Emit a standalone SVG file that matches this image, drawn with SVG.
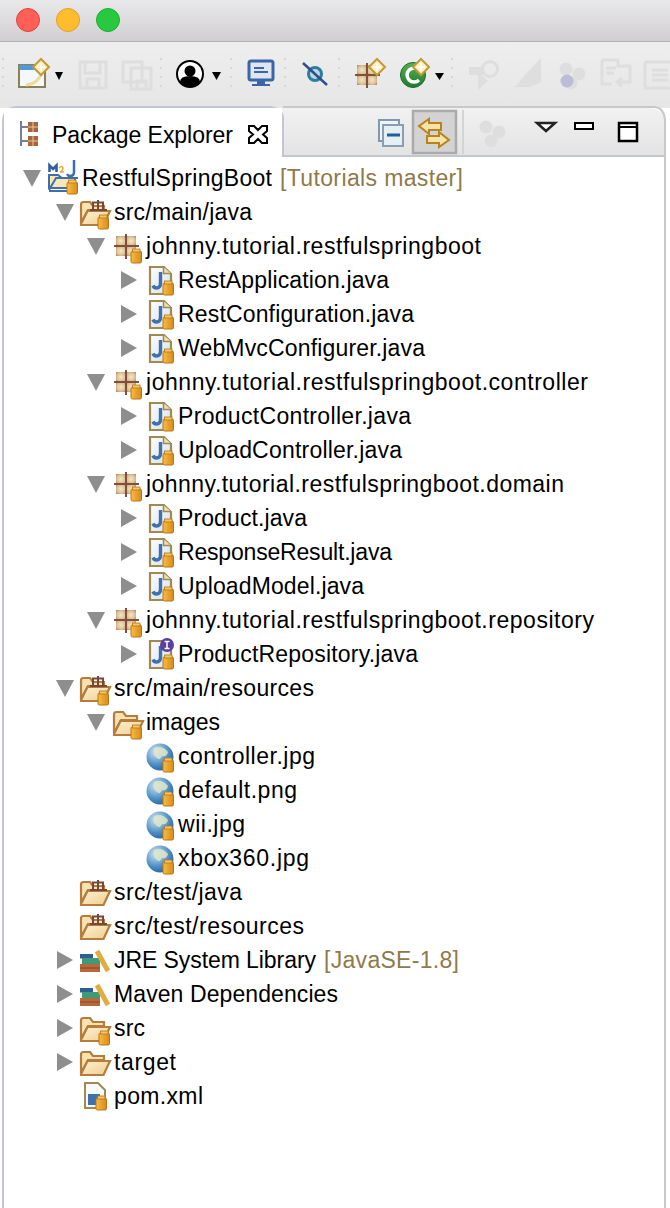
<svg xmlns="http://www.w3.org/2000/svg" width="670" height="1208" viewBox="0 0 670 1208">
<style>
text{font-family:"Liberation Sans","DejaVu Sans",sans-serif;font-size:23px;fill:#000}
.dec{fill:#8f7a4a}
.sep{stroke:#d8d6cf;stroke-width:2;stroke-dasharray:2 7;fill:none}
.dis{fill:none;stroke:#dedede;stroke-width:3}
.disf{fill:#dedede}
</style>
<defs>
<linearGradient id="chrome" x1="0" y1="0" x2="0" y2="1"><stop offset="0" stop-color="#e9e8eb"/><stop offset="1" stop-color="#d0ced1"/></linearGradient>
<linearGradient id="tool" x1="0" y1="0" x2="0" y2="1"><stop offset="0" stop-color="#eeeeee"/><stop offset="1" stop-color="#e6e6e6"/></linearGradient>
<linearGradient id="bar" x1="0" y1="0" x2="0" y2="1"><stop offset="0" stop-color="#f1f1f1"/><stop offset="1" stop-color="#e3e3e3"/></linearGradient>
<linearGradient id="fold" x1="0" y1="0" x2="1" y2="1"><stop offset="0" stop-color="#fdf3d6"/><stop offset="1" stop-color="#f0cc88"/></linearGradient>
<radialGradient id="pk" cx=".5" cy=".5" r=".7"><stop offset="0" stop-color="#f6e7c4"/><stop offset=".6" stop-color="#dcc096"/><stop offset="1" stop-color="#ae7c5a"/></radialGradient>
<linearGradient id="jar" x1="0" y1="0" x2="1" y2="0"><stop offset="0" stop-color="#f7bd3f"/><stop offset="1" stop-color="#d98a1c"/></linearGradient>
<radialGradient id="globe" cx=".35" cy=".3" r=".8"><stop offset="0" stop-color="#cfe6f6"/><stop offset=".6" stop-color="#4f8fc4"/><stop offset="1" stop-color="#1f5c94"/></radialGradient>
<linearGradient id="cg" x1="0" y1="0" x2="0" y2="1"><stop offset="0" stop-color="#59b04f"/><stop offset="1" stop-color="#1f7a30"/></linearGradient>
<linearGradient id="jfg" x1="0" y1="0" x2="1" y2="1"><stop offset="0" stop-color="#fbfdff"/><stop offset="1" stop-color="#d3e0ee"/></linearGradient>
<path id="down" d="M0 0H18L9 17Z" fill="#8e8e8e"/>
<path id="right" d="M0 0L16 9L0 18Z" fill="#8e8e8e"/>
<g id="jb"><rect x="0" y="1" width="10.500" height="12" rx="1.500" fill="url(#jar)" stroke="#b9741a"/><rect x="1.500" y="-1" width="7.500" height="3" fill="#f4c660" stroke="#b9741a" stroke-width=".8"/></g>
<g id="openf"><path d="M1 12V3.500Q1 1 3.500 1H10L13 5H24V9H8L1 22Z" fill="#f8e3b0" stroke="#b57c3c" stroke-width="2.200"/><path d="M1 23L7.500 10H30L23.500 24H1Z" fill="url(#fold)" stroke="#b57c3c" stroke-width="2.200"/></g>
<g id="srcf"><use href="#openf"/><path d="M13 9V1.500H23V9M18 -1V9M10 9H27" stroke="#75483a" stroke-width="2" fill="none"/></g>
<g id="pkg"><rect x="1" y="-10" width="10" height="10" fill="url(#pk)"/><rect x="11" y="-10" width="10" height="10" fill="url(#pk)"/><rect x="1" y="0" width="10" height="10" fill="url(#pk)"/><rect x="11" y="0" width="10" height="10" fill="url(#pk)"/><path d="M11 -12V13M-1 0H24" stroke="#80503f" stroke-width="2"/></g>
<g id="jf"><path d="M1 -13H15L22 -6V14H1Z" fill="url(#jfg)" stroke="#a08a52" stroke-width="2.200"/><path d="M14.500 -13V-6.500H22" fill="#eadfba" stroke="#a08a52" stroke-width="1.500"/><path d="M11.500 -8V3Q11.500 8 7.500 8Q5 8 4 5.500" fill="none" stroke="#3f6fad" stroke-width="3.400"/></g>
<g id="globeI"><circle cx="14" cy="0" r="13.500" fill="url(#globe)"/><path d="M8 -9Q16 -12 22 -5Q21 0 16 -1Q14 4 11 1Q6 -2 8 -9Z" fill="#dfe6c8" opacity=".85"/></g>
<g id="lib"><rect x="0" y="-6" width="13" height="4.500" fill="#2f5f8f"/><rect x="2" y="-2" width="18" height="6" fill="#3f9a78"/><rect x="0" y="4" width="20" height="8" fill="#b9683a"/><path d="M17 -9L28 11" stroke="#e2ad3e" stroke-width="5"/><path d="M0 8H20" stroke="#84462a" stroke-width="1"/></g>
<g id="balls"><circle cx="8" cy="7" r="6.500"/><circle cx="21" cy="12" r="6.500"/><circle cx="13" cy="21" r="6.500"/></g>
<g id="star"><path d="M0 -8L8 0L0 8L-8 0Z" fill="#fbeec2" stroke="#c09a35" stroke-width="2"/><path d="M0 -4V4M-4 0H4" stroke="#fffdf2" stroke-width="2"/></g>
</defs>

<g id="window-chrome">
<rect width="670" height="42" fill="url(#chrome)"/>
<rect y="41" width="670" height="1" fill="#b4b2b5"/>
<circle cx="28" cy="20" r="11.500" fill="#ff5f57" stroke="#e2453f"/>
<circle cx="68" cy="20" r="11.500" fill="#ffbd2e" stroke="#e0a125"/>
<circle cx="108" cy="20" r="11.500" fill="#28c940" stroke="#1fae33"/>
<rect y="42" width="670" height="66" fill="url(#tool)"/>
</g>

<g id="toolbar">
<path class="sep" d="M3 58V88M161 58V88M231 58V88M285 58V88M339 58V88M452 58V88"/>
<g id="tb-new"><rect x="19" y="65" width="26" height="22" fill="#f2f8fd" stroke="#8b7f58" stroke-width="2"/><rect x="19" y="65" width="26" height="5" fill="#4f9ad6"/><path d="M26 85Q38 84 42 72" stroke="#f0dc9a" stroke-width="3" fill="none"/><use href="#star" x="41" y="67"/><path d="M55 72H63L59 80Z"/></g>
<g id="tb-save"><path class="dis" d="M80 62H106V88H80ZM85 62V73H100V62M87 88V79H99V88"/></g>
<g id="tb-saveall"><path class="dis" d="M123 62H142V82H123ZM131 68H151V89H131ZM137 89V81H146V89"/></g>
<g id="tb-user"><circle cx="190" cy="74" r="13" fill="#000" stroke="#000" stroke-width="2"/><circle cx="190" cy="74" r="12" fill="#fff"/><circle cx="190" cy="71" r="5.500"/><path d="M180 82Q180 76 190 76Q200 76 200 82Q195 87 190 87Q184 87 180 82Z"/><path d="M212 72H221L216.500 80Z"/></g>
<g id="tb-monitor"><rect x="249" y="61" width="24" height="19" rx="2" fill="#dfe6ef" stroke="#3b65a8" stroke-width="3"/><path d="M254 68H264M254 72H268" stroke="#3b65a8" stroke-width="2"/><path d="M257 81H265V84H270V86H252V84H257Z" fill="#3b65a8"/></g>
<g id="tb-skip"><circle cx="315" cy="74" r="6.500" fill="#bcd6e4" stroke="#2f7c9e" stroke-width="3"/><path d="M303 63L327 85" stroke="#2f4d8f" stroke-width="2.500"/></g>
<g id="tb-package"><use href="#pkg" x="356" y="75"/><use href="#star" x="377" y="67"/></g>
<g id="tb-class"><circle cx="413" cy="75" r="12.500" fill="url(#cg)" stroke="#1a6b2a"/><path d="M419 70A7 7 0 1 0 419 80" fill="none" stroke="#fff" stroke-width="3.500"/><use href="#star" x="421" y="67"/><path d="M435 73H444L439.500 80Z"/></g>
<g id="tb-disabled">
<path class="disf" d="M478 72V90L488 81Z"/><rect x="469" y="67" width="14" height="8" class="disf"/><circle cx="490" cy="69" r="7.500" class="dis"/>
<path class="disf" d="M541 58V82L530 87H514Q519 84 523 77Z"/>
<use href="#balls" x="558" y="62" class="disf"/><circle cx="567" cy="81" r="6.500" fill="#bcbcd8"/>
<path class="dis" d="M602 60H618V66H630V76M602 60V84H612M606 68H616M606 73H614M630 76V82H618M622 78L617 82L622 86"/>
<path class="dis" d="M645 62H670M645 62V88H670M652 70H668M652 75H668M652 80H668"/>
</g>
</g>

<g id="tab-bar">
<path d="M283 157V116Q283 109 276 108H650Q664 109 665 122V157Z" fill="url(#bar)"/>
<path d="M3 1208V122Q3 108 16 107H270Q282 108 283 118V156H665" fill="#fff" stroke="#c3c6d2" stroke-width="2"/>
<path d="M283 107H655Q664 108 665 120V1208" fill="none" stroke="#c9c9c9" stroke-width="2"/>
<rect x="4" y="108" width="278" height="50" fill="#fff"/>
<rect x="4" y="157" width="660" height="1051" fill="#fff"/>
<g id="tab-icon"><path d="M21 121V146M21 127H29M21 141H29" stroke="#77808c" stroke-width="2" fill="none"/><rect x="28" y="122" width="10" height="10" fill="#a8643a"/><rect x="28" y="136" width="10" height="10" fill="#a8643a"/><path d="M33 122V132M28 127H38M33 136V146M28 141H38" stroke="#e8cda0"/></g>
<text x="52" y="143" textLength="181">Package Explorer</text>
<path id="tab-close" d="M249 126H254L258 130L262 126H267V131L263 134.500L267 138V143H262L258 139L254 143H249V138L253 134.500L249 131Z" fill="#fff" stroke="#000" stroke-width="2"/>
<g id="collapse"><rect x="379" y="120" width="20" height="21" fill="#eef4f8" stroke="#7f98b4" stroke-width="2"/><rect x="383" y="125" width="20" height="21" fill="#e4f0f2" stroke="#8a9db3" stroke-width="2"/><path d="M387 135H400" stroke="#1f5f9f" stroke-width="3"/></g>
<g id="link"><rect x="413" y="111" width="43" height="42" fill="#d3d3d3" stroke="#aaaaaa" stroke-width="2.500"/><path d="M419 126L429 119V123H441V130H429V134Z" fill="#f7e3a8" stroke="#b8821e" stroke-width="2"/><path d="M449 140L439 147V143H427V136H439V132Z" fill="#f7e3a8" stroke="#b8821e" stroke-width="2"/></g>
<rect x="462" y="110" width="2" height="44" fill="#d4d4d4"/>
<use id="bar-balls" href="#balls" x="478" y="120" class="disf"/>
<path id="view-menu" d="M537 123H555L546 131Z" fill="#fff" stroke="#222" stroke-width="2.500"/>
<rect id="minimize" x="575" y="123" width="18" height="6" fill="#fff" stroke="#000" stroke-width="2"/>
<g id="maximize"><rect x="619" y="123" width="18" height="18" fill="#fff" stroke="#000" stroke-width="2.500"/><path d="M619 127H637" stroke="#000" stroke-width="2"/></g>
</g>

<g id="tree-twisties">
<use href="#down" x="23" y="170"/><use href="#down" x="56" y="204"/><use href="#down" x="87" y="238"/>
<use href="#right" x="121" y="271"/><use href="#right" x="121" y="305"/><use href="#right" x="121" y="339"/>
<use href="#down" x="87" y="374"/><use href="#right" x="121" y="407"/><use href="#right" x="121" y="441"/>
<use href="#down" x="87" y="476"/><use href="#right" x="121" y="509"/><use href="#right" x="121" y="543"/><use href="#right" x="121" y="577"/>
<use href="#down" x="87" y="612"/><use href="#right" x="121" y="645"/>
<use href="#down" x="56" y="680"/><use href="#down" x="87" y="714"/>
<use href="#right" x="57" y="951"/><use href="#right" x="57" y="985"/><use href="#right" x="57" y="1019"/><use href="#right" x="57" y="1053"/>
</g>

<g id="node-project"><path d="M49 178V188H75V178H62L58 175H49Z" fill="#fbe7b5" stroke="#3d6fb0" stroke-width="2"/><path d="M49 190L56 178H78" fill="none" stroke="#3d6fb0" stroke-width="2"/><path d="M49 191H74" stroke="#3d6fb0" stroke-width="2"/><path d="M49.500 172V165.500L53 169L56.500 165.500V172" fill="none" stroke="#2f5f9f" stroke-width="2.600"/><path d="M59 168Q62 165 63 168Q63 171 60 172H64" stroke="#e2ad3e" fill="none" stroke-width="1.500"/><path d="M74 160V172Q74 176 70 176Q68 176 67 174" stroke="#3d6fb0" stroke-width="2.500" fill="none"/><use href="#jb" x="67" y="181"/><text x="82" y="186" textLength="190">RestfulSpringBoot</text><text x="280" y="186" class="dec" textLength="183">[Tutorials master]</text></g>

<g id="node-src-main-java"><use href="#srcf" x="80" y="201"/><use href="#jb" x="98" y="216"/><text x="114" y="220" textLength="138">src/main/java</text></g>
<g id="node-pkg-root"><use href="#pkg" x="115" y="246"/><use href="#jb" x="131" y="250"/><text x="146" y="254" textLength="335">johnny.tutorial.restfulspringboot</text></g>
<g id="node-RestApplication"><use href="#jf" x="149" y="280"/><use href="#jb" x="163" y="282"/><text x="178" y="288" textLength="211">RestApplication.java</text></g>
<g id="node-RestConfiguration"><use href="#jf" x="149" y="314"/><use href="#jb" x="163" y="316"/><text x="178" y="322" textLength="236">RestConfiguration.java</text></g>
<g id="node-WebMvcConfigurer"><use href="#jf" x="149" y="348"/><use href="#jb" x="163" y="350"/><text x="178" y="356" textLength="247">WebMvcConfigurer.java</text></g>
<g id="node-pkg-controller"><use href="#pkg" x="115" y="382"/><use href="#jb" x="131" y="386"/><text x="146" y="390" textLength="442">johnny.tutorial.restfulspringboot.controller</text></g>
<g id="node-ProductController"><use href="#jf" x="149" y="416"/><use href="#jb" x="163" y="418"/><text x="178" y="424" textLength="233">ProductController.java</text></g>
<g id="node-UploadController"><use href="#jf" x="149" y="450"/><use href="#jb" x="163" y="452"/><text x="178" y="458" textLength="224">UploadController.java</text></g>
<g id="node-pkg-domain"><use href="#pkg" x="115" y="484"/><use href="#jb" x="131" y="488"/><text x="146" y="492" textLength="418">johnny.tutorial.restfulspringboot.domain</text></g>
<g id="node-Product"><use href="#jf" x="149" y="518"/><use href="#jb" x="163" y="520"/><text x="178" y="526" textLength="129">Product.java</text></g>
<g id="node-ResponseResult"><use href="#jf" x="149" y="552"/><use href="#jb" x="163" y="554"/><text x="178" y="560" textLength="214">ResponseResult.java</text></g>
<g id="node-UploadModel"><use href="#jf" x="149" y="586"/><use href="#jb" x="163" y="588"/><text x="178" y="594" textLength="186">UploadModel.java</text></g>
<g id="node-pkg-repository"><use href="#pkg" x="115" y="620"/><use href="#jb" x="131" y="624"/><text x="146" y="628" textLength="448">johnny.tutorial.restfulspringboot.repository</text></g>
<g id="node-ProductRepository"><use href="#jf" x="149" y="654"/><circle cx="167" cy="645" r="7" fill="#5a3f9c"/><path d="M164.500 641.500H169.500M167 641.500V648.500M164.500 648.500H169.500" stroke="#fff" stroke-width="1.500"/><use href="#jb" x="163" y="656"/><text x="178" y="662" textLength="240">ProductRepository.java</text></g>
<g id="node-src-main-resources"><use href="#srcf" x="80" y="677"/><use href="#jb" x="98" y="692"/><text x="114" y="696" textLength="200">src/main/resources</text></g>
<g id="node-images"><use href="#openf" x="113" y="711"/><use href="#jb" x="131" y="726"/><text x="146" y="730" textLength="74">images</text></g>
<g id="node-controller"><use href="#globeI" x="146" y="757"/><use href="#jb" x="163" y="759"/><text x="178" y="764" textLength="137">controller.jpg</text></g>
<g id="node-default"><use href="#globeI" x="146" y="791"/><use href="#jb" x="163" y="793"/><text x="178" y="798" textLength="119">default.png</text></g>
<g id="node-wii"><use href="#globeI" x="146" y="825"/><use href="#jb" x="163" y="827"/><text x="178" y="832" textLength="67">wii.jpg</text></g>
<g id="node-xbox360"><use href="#globeI" x="146" y="859"/><use href="#jb" x="163" y="861"/><text x="178" y="866" textLength="131">xbox360.jpg</text></g>
<g id="node-src-test-java"><use href="#srcf" x="80" y="881"/><text x="114" y="900" textLength="128">src/test/java</text></g>
<g id="node-src-test-resources"><use href="#srcf" x="80" y="915"/><text x="114" y="934" textLength="190">src/test/resources</text></g>
<g id="node-jre"><use href="#lib" x="80" y="960"/><text x="114" y="968" textLength="202">JRE System Library</text><text x="324" y="968" class="dec" textLength="135">[JavaSE-1.8]</text></g>
<g id="node-maven"><use href="#lib" x="80" y="994"/><text x="114" y="1002" textLength="224">Maven Dependencies</text></g>
<g id="node-src"><use href="#openf" x="80" y="1017"/><use href="#jb" x="99" y="1032"/><text x="114" y="1036" textLength="31">src</text></g>
<g id="node-target"><use href="#openf" x="80" y="1051"/><text x="114" y="1070" textLength="62">target</text></g>
<g id="node-pom"><path d="M85 1083H98L105 1090V1108H85Z" fill="#f7fafd" stroke="#a08a52" stroke-width="2"/><rect x="88" y="1094" width="12" height="11" fill="#3f6fad"/><use href="#jb" x="96" y="1097"/><text x="114" y="1104" textLength="89">pom.xml</text></g>
</svg>
